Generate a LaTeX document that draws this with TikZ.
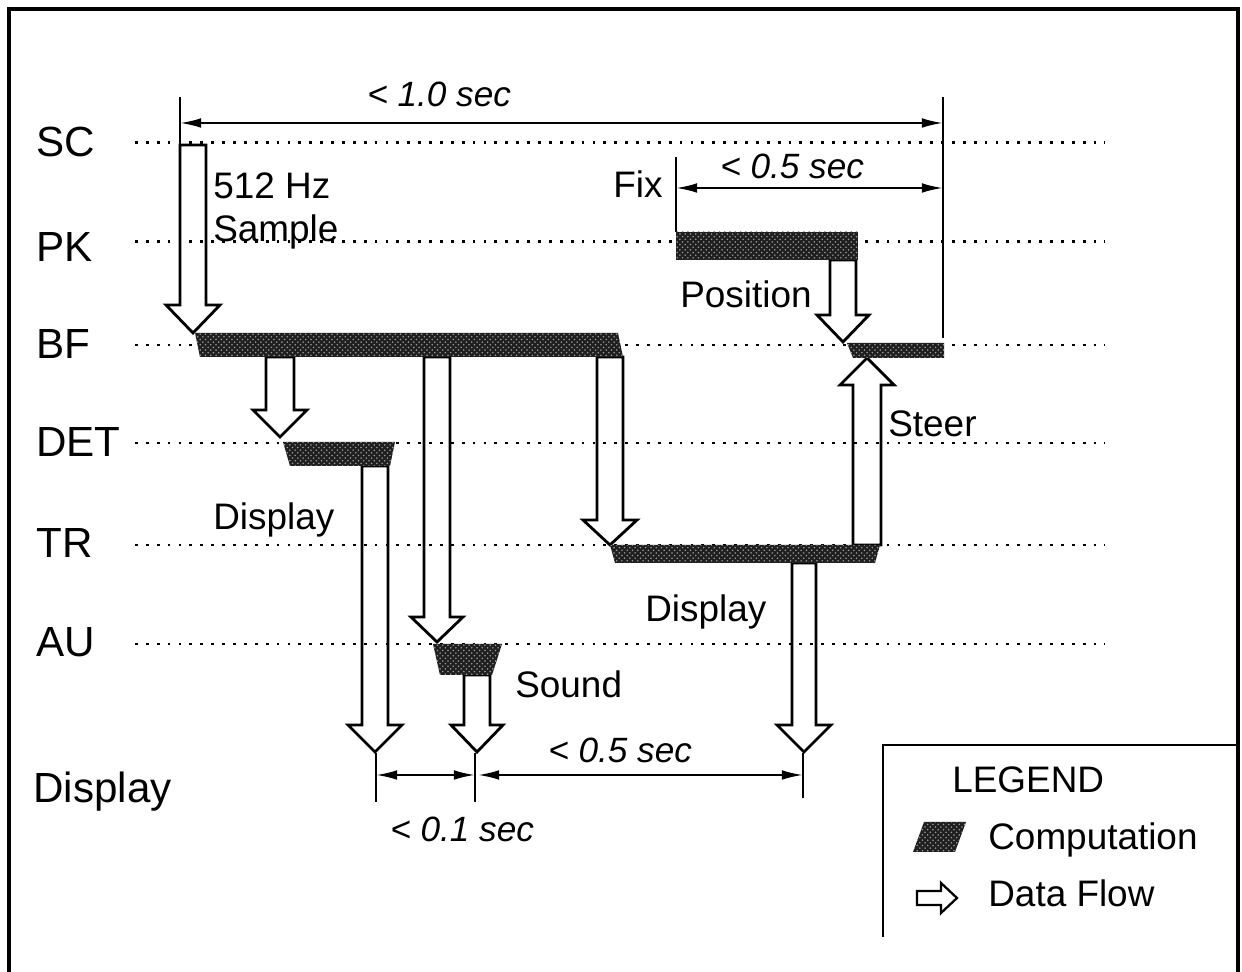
\documentclass[tikz,border=0pt]{standalone}
\usepackage{fontspec}
\setmainfont{Liberation Sans}
\usetikzlibrary{arrows.meta,patterns}
\newcommand\flowarrow[6]{%
  \draw[flow] ({#1-#5},#2) -- ({#1-#5},#3) -- ({#1-#6},#3) -- (#1,#4) -- ({#1+#6},#3) -- ({#1+#5},#3) -- ({#1+#5},#2) -- cycle;}
\tikzset{
  lane/.style={line width=1.7pt, dash pattern=on 1.6pt off 4.6pt},
  flow/.style={line width=1.6pt, line join=miter},
  comp/.style={fill=black!88, postaction={pattern=crosshatch dots, pattern color=black!40}},
  dimline/.style={line width=1.2pt, {Latex[length=12pt,width=5.5pt]}-{Latex[length=12pt,width=5.5pt]}},
  tickline/.style={line width=1.4pt},
  lbl/.style={font=\fontsize{21}{24}\selectfont, anchor=base west, inner sep=0pt},
  rowlbl/.style={font=\fontsize{24}{28}\selectfont, anchor=base west, inner sep=0pt},
  dlbl/.style={font=\itshape\fontsize{20}{24}\selectfont, anchor=base west, inner sep=0pt},
}
\begin{document}
\begin{tikzpicture}[x=0.02cm,y=-0.02cm]
\useasboundingbox (0,0) rectangle (1242,972);
% frame
\draw[line width=1.8pt] (9,972) -- (9,9) -- (1238,9) -- (1238,972);
% row labels
\node[rowlbl] (lSC) at (36,157) {SC};
\node[rowlbl] (lPK) at (36,262) {PK};
\node[rowlbl] (lBF) at (36,359) {BF};
\node[rowlbl] (lDET) at (36,457) {DET};
\node[rowlbl] (lTR) at (36,558) {TR};
\node[rowlbl] (lAU) at (36,657) {AU};
\node[rowlbl] (lDisp) at (33,803) {Display};
% lanes
\foreach \yy in {143,242,345,443,545,644} \draw[lane] (135,\yy) -- (1105,\yy);
% top dimension
\coordinate (t1a) at (180,97); \coordinate (t1b) at (180,147);
\coordinate (t2a) at (943,97); \coordinate (t2b) at (943,338);
\draw[tickline] (t1a) -- (t1b);
\draw[tickline] (t2a) -- (t2b);
\coordinate (d1l) at (180,123); \coordinate (d1r) at (943,123);
\draw[dimline] (d1l) -- (d1r);
\node[dlbl] (s10) at (367,107) {< 1.0 sec};
% fix dimension
\coordinate (fa) at (676,157); \coordinate (fb) at (676,232);
\draw[tickline] (fa) -- (fb);
\coordinate (d2l) at (676,188); \coordinate (d2r) at (943,188);
\draw[dimline] (d2l) -- (d2r);
\node[dlbl] (s05a) at (720,179) {< 0.5 sec};
\node[lbl] (fix) at (613,198) {Fix};
% data flow arrows
\flowarrow{193}{145}{305}{333}{13}{27}
\flowarrow{280}{357}{410}{437}{14}{27}
\flowarrow{437}{357}{617}{642}{13}{26}
\flowarrow{375}{466}{725}{752}{13}{27}
\flowarrow{477}{675}{725}{752}{13}{26}
\flowarrow{804}{563}{725}{752}{12}{27}
\flowarrow{610}{357}{520}{545}{13}{27}
\flowarrow{867}{545}{385}{358}{14}{27}
\flowarrow{843}{260}{315}{342}{13}{26}
% computation bars
\fill[comp] (676,232) -- (858,232) -- (858,260) -- (676,260) -- cycle;
\fill[comp] (195,333) -- (618,333) -- (623,357) -- (200,357) -- cycle;
\fill[comp] (847,343) -- (944,343) -- (944,358) -- (853,358) -- cycle;
\fill[comp] (283,442) -- (395,442) -- (390,466) -- (290,466) -- cycle;
\fill[comp] (610,545) -- (880,545) -- (875,563) -- (615,563) -- cycle;
\fill[comp] (433,644) -- (502,644) -- (492,675) -- (440,675) -- cycle;
% flow labels
\node[lbl] (hz) at (213,199) {512 Hz};
\node[lbl] (smp) at (213,242) {Sample};
\node[lbl] (pos) at (680,308) {Position};
\node[lbl] (steer) at (888,437) {Steer};
\node[lbl] (disp1) at (213,530) {Display};
\node[lbl] (disp2) at (645,622) {Display};
\node[lbl] (snd) at (515,698) {Sound};
% bottom dimensions
\coordinate (b1a) at (376,753); \coordinate (b1b) at (376,802);
\coordinate (b2a) at (475,753); \coordinate (b2b) at (475,802);
\coordinate (b3a) at (803,753); \coordinate (b3b) at (803,798);
\draw[tickline] (b1a) -- (b1b);
\draw[tickline] (b2a) -- (b2b);
\draw[tickline] (b3a) -- (b3b);
\coordinate (e1) at (376,775); \coordinate (e2) at (475,775);
\coordinate (e3) at (478,775); \coordinate (e4) at (803,775);
\draw[dimline] (e1) -- (e2);
\draw[dimline] (e3) -- (e4);
\node[dlbl] (s05b) at (548,763) {< 0.5 sec};
\node[dlbl] (s01) at (390,842) {< 0.1 sec};
% legend
\draw[line width=1.4pt] (883,937) -- (883,745) -- (1238,745);
\node[lbl] (leg) at (952,793) {LEGEND};
\fill[comp] (924,822) -- (966,822) -- (955,852) -- (913,852) -- cycle;
\node[lbl] (lc) at (988,850) {Computation};
\draw[line width=1.3pt, line join=miter] (917,891) -- (941,891) -- (941,883) -- (957,898) -- (941,913) -- (941,905) -- (917,905) -- cycle;
\node[lbl] (ld) at (988,907) {Data Flow};
\end{tikzpicture}
\end{document}
